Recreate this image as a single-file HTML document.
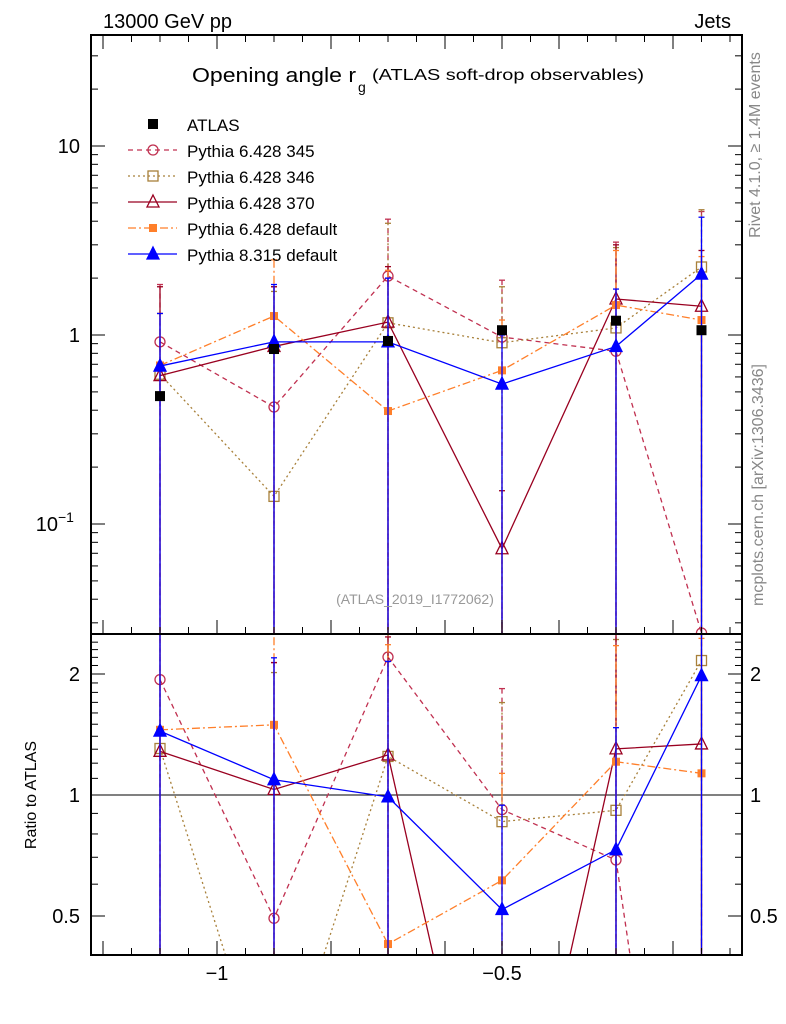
<!DOCTYPE html>
<html><head><meta charset="utf-8"><style>
html,body{margin:0;background:#fff;overflow:hidden;}
svg{display:block;}
svg text{font-family:"Liberation Sans",sans-serif;}
</style></head><body>
<svg id="c" width="786" height="1024" xmlns="http://www.w3.org/2000/svg"></svg>
<script>
const xs=[-1.1,-0.9,-0.7,-0.5,-0.3,-0.15];
const atlas=[0.475,0.843,0.93,1.06,1.19,1.06];
const p345=[0.92,0.416,2.05,0.975,0.82,0.0265];
const p346=[0.62,0.14,1.16,0.91,1.09,2.29];
const p370=[0.61,0.87,1.17,0.074,1.55,1.42];
const p6def=[0.69,1.26,0.396,0.65,1.44,1.2];
const p8def=[0.685,0.92,0.92,0.55,0.87,2.1];
const up345=[1.85,1.8,4.1,1.95,3.1,4.5];
const up346=[1.3,1.7,3.9,1.8,2.9,4.6];
const up370=[1.8,1.8,2.3,0.15,3.0,2.8];
const up6def=[1.3,2.5,2.2,1.2,2.8,2.6];
const up8def=[1.3,1.85,2.0,1.0,1.75,4.2];
const series=[
 {name:'Pythia 6.428 345',v:p345,up:up345,c:'#c03050',dash:'5,4',m:'circle',fill:false,id:'p345'},
 {name:'Pythia 6.428 346',v:p346,up:up346,c:'#a8803a',dash:'2,3',m:'square',fill:false,id:'p346'},
 {name:'Pythia 6.428 370',v:p370,up:up370,c:'#990020',dash:'',m:'tri',fill:false,id:'p370'},
 {name:'Pythia 6.428 default',v:p6def,up:up6def,c:'#ff7f2a',dash:'8,3,2,3',m:'sq',fill:true,id:'p6def'},
 {name:'Pythia 8.315 default',v:p8def,up:up8def,c:'#0000ff',dash:'',m:'tri',fill:true,id:'p8def'}];
const NS='http://www.w3.org/2000/svg';const svg=document.getElementById('c');
function el(t,a,p){const e=document.createElementNS(NS,t);for(const k in a)e.setAttribute(k,a[k]);(p||svg).appendChild(e);return e;}
const L=91,R=742,T=35,M=634,B=955;
const X=v=>217+(v+1)*570;
const Y=v=>335-189*Math.log10(v);
const YR=v=>795-121*Math.log2(v);
const defs=el('defs',{});
const c1=el('clipPath',{id:'cm'},defs);el('rect',{x:L,y:T,width:R-L,height:M-T},c1);
const c2=el('clipPath',{id:'cr'},defs);el('rect',{x:L,y:M,width:R-L,height:B-M},c2);
function marker(g,s,x,y){const c=s.c;
 if(s.m==='circle')el('circle',{cx:x,cy:y,r:5,fill:'none',stroke:c,'stroke-width':1.3},g);
 else if(s.m==='square')el('rect',{x:x-5,y:y-5,width:10,height:10,fill:'none',stroke:c,'stroke-width':1.3},g);
 else if(s.m==='sq')el('rect',{x:x-4,y:y-4,width:8,height:8,fill:c},g);
 else if(s.m==='tri')el('path',{d:`M${x} ${y-7}L${x+6} ${y+5}L${x-6} ${y+5}Z`,fill:s.fill?c:'none',stroke:c,'stroke-width':1.3},g);
 else if(s.m==='atlas')el('rect',{x:x-5,y:y-5,width:10,height:10,fill:'#000'},g);}
function panel(clip,fy,ratio,pname){
 const g=el('g',{'clip-path':`url(#${clip})`});
 
 if(ratio)el('line',{x1:L,x2:R,y1:YR(1),y2:YR(1),stroke:'#000','stroke-width':1},g);
 series.forEach(s=>{const sg=el('g',{},g);
  
  const vals=s.v.map((v,i)=>ratio?v/atlas[i]:v);
  const ups=s.up.map((v,i)=>ratio?v/atlas[i]:v);
  vals.forEach((v,i)=>{const x=X(xs[i]);
   el('line',{x1:x,x2:x,y1:fy(ups[i]),y2:B,stroke:s.c,'stroke-width':1.3,'stroke-dasharray':s.dash},sg);
   el('line',{x1:x-3,x2:x+3,y1:fy(ups[i]),y2:fy(ups[i]),stroke:s.c,'stroke-width':1.3},sg);});
  el('polyline',{points:vals.map((v,i)=>X(xs[i])+','+fy(v)).join(' '),fill:'none',stroke:s.c,'stroke-width':1.3,'stroke-dasharray':s.dash},sg);
  vals.forEach((v,i)=>marker(sg,s,X(xs[i]),fy(v)));});
 if(!ratio){const ag=el('g',{},g);
  atlas.forEach((v,i)=>marker(ag,{m:'atlas'},X(xs[i]),fy(v)));}
}
panel('cm',Y,false,'main');panel('cr',YR,true,'ratio');
el('rect',{x:L,y:T,width:R-L,height:B-T,fill:'none',stroke:'#000','stroke-width':2});
el('line',{x1:L,x2:R,y1:M,y2:M,stroke:'#000','stroke-width':2});
for(let k=-24;k<=-1;k++){const v=k*0.05,x=X(v);if(x<L||x>R)continue;const maj=(k%4===0)||k===-10;const len=maj?14:7;
 [M,B].forEach(yb=>{el('line',{x1:x,x2:x,y1:yb,y2:yb-len,stroke:'#000','stroke-width':1});});
 el('line',{x1:x,x2:x,y1:T,y2:T+len,stroke:'#000','stroke-width':1});}
[[-1,'\u22121'],[-0.5,'\u22120.5']].forEach(([v,t])=>{const e=el('text',{x:X(v),y:980,'font-size':20,'text-anchor':'middle'});e.textContent=t;});
for(let d=-2;d<=1;d++)for(let m=1;m<=9;m++){const v=m*Math.pow(10,d),y=Y(v);if(y<T||y>M)continue;const len=m===1?14:7;
 el('line',{x1:L,x2:L+len,y1:y,y2:y,stroke:'#000'});el('line',{x1:R,x2:R-len,y1:y,y2:y,stroke:'#000'});}
[[10,'10'],[1,'1']].forEach(([v,t])=>{const e=el('text',{x:80,y:Y(v)+7,'font-size':20,'text-anchor':'end'});e.textContent=t;});
{const e=el('text',{x:58,y:Y(0.1)+7,'font-size':20,'text-anchor':'end'});e.textContent='10';
 const s=el('text',{x:58,y:Y(0.1)-2,'font-size':14});s.textContent='\u22121';}
for(let v=0.4;v<=2.5;v+=0.1){const y=YR(v);if(y<M||y>B)continue;const r=Math.round(v*10)/10;const maj=(r===0.5||r===1||r===2);const len=maj?14:7;
 el('line',{x1:L,x2:L+len,y1:y,y2:y,stroke:'#000'});el('line',{x1:R,x2:R-len,y1:y,y2:y,stroke:'#000'});}
[[2,'2'],[1,'1'],[0.5,'0.5']].forEach(([v,t])=>{[[80,'end'],[750,'start']].forEach(([x,a])=>{const e=el('text',{x:x,y:YR(v)+7,'font-size':20,'text-anchor':a});e.textContent=t;});});
function txt(x,y,s,t,a,name,extra,parent){const e=el('text',Object.assign({x:x,y:y,'font-size':s,'text-anchor':a||'start'},extra||{}),parent);e.textContent=t;return e;}
txt(103,28,20,'13000 GeV pp','start','energy-label');
txt(731,28,20,'Jets','end','process-label');
txt(192,82,20,'Opening angle r','start','plot-title',{textLength:164,lengthAdjust:'spacingAndGlyphs'});
txt(358,92,14,'g','start','plot-title-subscript');
txt(372,80,16,'(ATLAS soft-drop observables)','start','plot-title-suffix',{textLength:272,lengthAdjust:'spacingAndGlyphs'});
txt(415,604,14,'(ATLAS_2019_I1772062)','middle','analysis-id',{fill:'#999'});
txt(760,145,16,'Rivet 4.1.0, \u2265 1.4M events','middle','rivet-label',{fill:'#888',transform:'rotate(-90 760 145)'});
txt(763,485,16,'mcplots.cern.ch [arXiv:1306.3436]','middle','mcplots-label',{fill:'#888',transform:'rotate(-90 763 485)'});
txt(36,795,16,'Ratio to ATLAS','middle','y-axis-title',{transform:'rotate(-90 36 795)'});
const lg=el('g',{});
const entries=[{name:'ATLAS',m:'atlas',c:'#000'}].concat(series);
entries.forEach((s,i)=>{const y=124+i*26;const eg=el('g',{},lg);
 if(s.m!=='atlas')el('line',{x1:128,x2:177,y1:y,y2:y,stroke:s.c,'stroke-width':1.3,'stroke-dasharray':s.dash},eg);
 marker(eg,s,153,y);
 txt(187,y+7,17,s.name,'start','legend-label',{},eg);});
</script>
</body></html>
